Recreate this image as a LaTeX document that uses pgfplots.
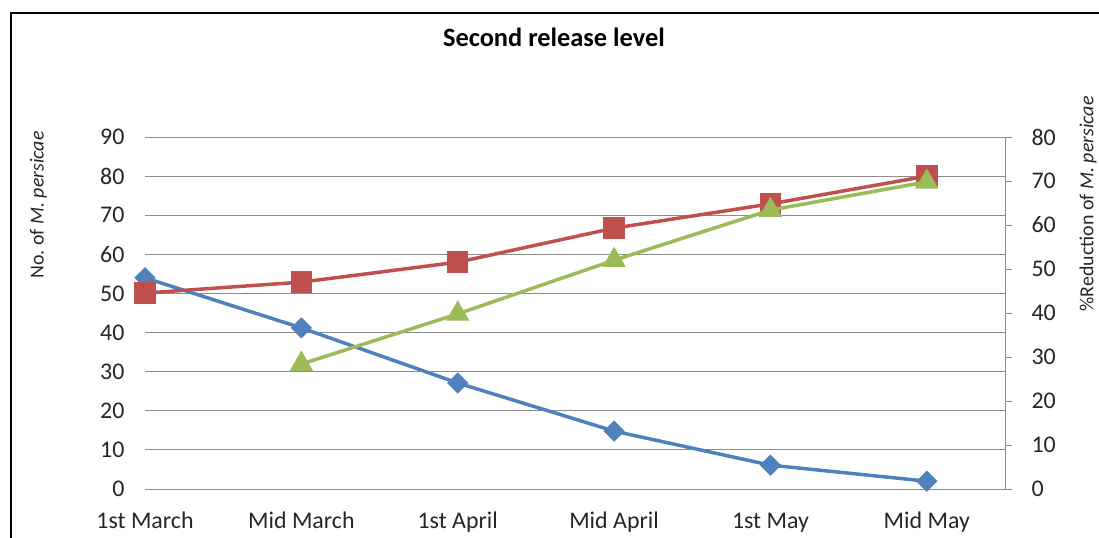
\documentclass[border=0pt]{standalone}
\usepackage{pgfplots}
\pgfplotsset{compat=1.18}
\usepackage{fontspec}
\setmainfont{Carlito}
\definecolor{xblue}{HTML}{4F81BD}
\definecolor{xred}{HTML}{C0504D}
\definecolor{xgreen}{HTML}{9BBB59}
\definecolor{xgrid}{HTML}{8C8C8C}
\begin{document}
\begin{tikzpicture}
\useasboundingbox (0bp,0bp) rectangle (1099bp,-538bp);
\draw[line width=1.4bp, black] (11bp,-560bp) -- (11bp,-13bp) -- (1120bp,-13bp);
\node[font=\bfseries\fontsize{26.5}{30}\selectfont] at (554bp,-37bp) {Second release level};
\begin{axis}[
  at={(145bp,-489bp)}, anchor=south west,
  scale only axis, width=860bp, height=352bp,
  xmin=0, xmax=5.5, ymin=0, ymax=90,
  xtick={0,...,5},
  xticklabels={1st March,Mid March,1st April,Mid April,1st May,Mid May},
  ytick={0,10,...,90},
  ymajorgrids,
  major grid style={color=xgrid, line width=0.9bp},
  axis line style={draw=none},
  major tick length=0pt,
  tick label style={font=\fontsize{24}{28}\selectfont, text=black!85},
  /pgf/number format/assume math mode=true,
  yticklabel style={anchor=east, xshift=-17bp},
  xticklabel style={anchor=base, yshift=-39bp},
  ylabel={No.\ of \textit{M. persicae}},
  ylabel style={at={(axis description cs:-0.124,0.807)}, anchor=center, font=\fontsize{20}{24}\selectfont, text=black!85},
  clip=false,
]
\addplot[xblue, line width=3.5bp, mark=square*, mark size=5.8bp, mark options={rotate=45, solid}]
  coordinates {(0,54) (1,41.2) (2,27.1) (3,14.8) (4,6.1) (5,2.0)};
\addplot[xred, line width=3.5bp, mark=square*, mark size=9bp, mark options={solid}]
  coordinates {(0,50.1) (1,52.9) (2,58.0) (3,66.7) (4,72.9) (5,80.0)};
\end{axis}
\begin{axis}[
  at={(145bp,-489bp)}, anchor=south west,
  scale only axis, width=860bp, height=352bp,
  xmin=0, xmax=5.5, ymin=0, ymax=80,
  axis x line=none,
  axis y line*=right,
  ytick={0,10,...,80},
  axis line style={draw=xgrid, line width=0.9bp},
  tick style={draw=xgrid, line width=0.9bp},
  ytick align=outside, major tick length=7bp,
  tick label style={font=\fontsize{24}{28}\selectfont, text=black!85},
  /pgf/number format/assume math mode=true,
  yticklabel style={anchor=west, xshift=16bp},
  ylabel={\%Reduction of \textit{M. persicae}},
  ylabel style={at={(axis description cs:1.0965,0.81)}, anchor=center, rotate=0, font=\fontsize{20}{24}\selectfont, text=black!85},
  clip=false,
]
\addplot[xgreen, line width=3.5bp, mark=triangle*, mark size=10bp, mark options={solid}]
  coordinates {(1,28.4) (2,39.8) (3,52.0) (4,63.4) (5,69.8)};
\end{axis}
\end{tikzpicture}
\end{document}
